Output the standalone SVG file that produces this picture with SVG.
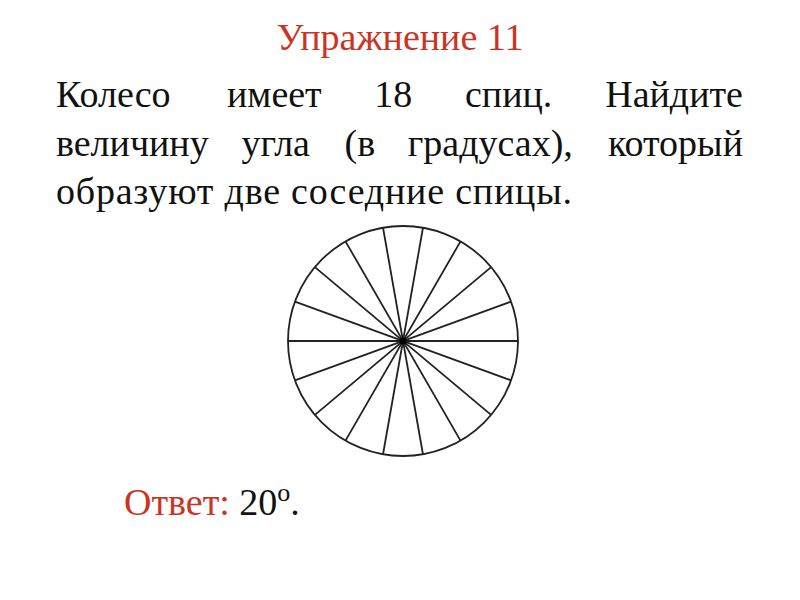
<svg xmlns="http://www.w3.org/2000/svg" width="800" height="600" viewBox="0 0 800 600">
<style>
text{font-family:"Liberation Serif","Times New Roman",serif;font-size:38px;fill:#111}
.red{fill:#cc3322}
.sp{stroke:#222;stroke-width:1.8;fill:none}
</style>
<rect width="800" height="600" fill="#ffffff"/>
<g id="title"><text class="red" x="400" y="50" text-anchor="middle" font-family="Liberation Serif, serif">Упражнение 11</text></g>
<g id="problem" font-family="Liberation Serif, serif">
<text y="107" font-family="Liberation Serif, serif"><tspan x="56">Колесо</tspan><tspan x="227">имеет</tspan><tspan x="374.3">18</tspan><tspan x="465">спиц.</tspan><tspan x="743" text-anchor="end">Найдите</tspan></text>
<text y="156" font-family="Liberation Serif, serif"><tspan x="56">величину</tspan><tspan x="241.5">угла</tspan><tspan x="344.5">(в</tspan><tspan x="407.7">градусах),</tspan><tspan x="743" text-anchor="end">который</tspan></text>
<text x="56" y="204" font-family="Liberation Serif, serif" textLength="516" lengthAdjust="spacing">образуют две соседние спицы.</text>
</g>
<g id="wheel">
<circle class="sp" cx="403" cy="341" r="115"/>
<g id="spokes">
<line class="sp" x1="518" y1="341" x2="288" y2="341"/>
<line class="sp" x1="511.06" y1="301.67" x2="294.94" y2="380.33"/>
<line class="sp" x1="491.1" y1="267.08" x2="314.9" y2="414.92"/>
<line class="sp" x1="460.5" y1="241.41" x2="345.5" y2="440.59"/>
<line class="sp" x1="422.97" y1="227.75" x2="383.03" y2="454.25"/>
<line class="sp" x1="383.03" y1="227.75" x2="422.97" y2="454.25"/>
<line class="sp" x1="345.5" y1="241.41" x2="460.5" y2="440.59"/>
<line class="sp" x1="314.9" y1="267.08" x2="491.1" y2="414.92"/>
<line class="sp" x1="294.94" y1="301.67" x2="511.06" y2="380.33"/>
</g>
<circle cx="403" cy="341" r="3.5" fill="#000"/>
</g>
<g id="answer"><text x="124" y="515" font-family="Liberation Serif, serif"><tspan class="red">Ответ:</tspan> 20<tspan dy="-14" font-size="26">o</tspan><tspan dy="14">.</tspan></text></g>
</svg>
